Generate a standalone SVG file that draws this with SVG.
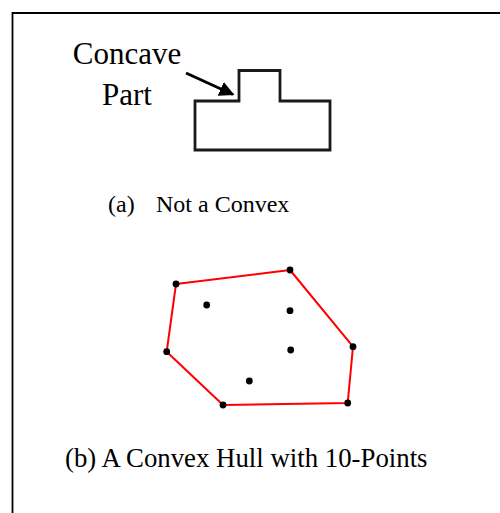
<svg xmlns="http://www.w3.org/2000/svg" width="500" height="513" viewBox="0 0 500 513">
  <defs>
    <style>
      .t { font-family: "Liberation Serif", "Times New Roman", serif; fill: #000; }
      .shape { fill: none; stroke: #1a1a1a; stroke-width: 2.8; stroke-linejoin: miter; }
      .hull { fill: none; stroke: #ff0000; stroke-width: 2; stroke-linejoin: round; }
      .pt { fill: #000; }
    </style>
    <marker id="ah" viewBox="0 0 10 10" refX="9" refY="5" markerWidth="5" markerHeight="5" orient="auto" markerUnits="strokeWidth">
      <path d="M0,0 L10,5 L0,10 Z" fill="#000"/>
    </marker>
  </defs>
  <rect x="0" y="0" width="500" height="513" fill="#fff"/>
  <path d="M12.5,513 V13 H500" fill="none" stroke="#000" stroke-width="1.8"/>

  <g id="concave-figure">
    <path class="shape" d="M195,150 V101 H239 V70.5 H280 V101 H330 V150 Z"/>
    <text class="t" x="127" y="64" font-size="31" text-anchor="middle">Concave</text>
    <text class="t" x="127" y="105" font-size="31" text-anchor="middle">Part</text>
  </g>
  <g id="connectors">
    <line x1="186" y1="73" x2="233" y2="94.5" stroke="#000" stroke-width="3" marker-end="url(#ah)"/>
  </g>
  <text class="t" x="108" y="212" font-size="24">(a)</text>
  <text class="t" x="156" y="212" font-size="24">Not a Convex</text>

  <g id="convex-hull">
    <polygon class="hull" points="176,284 290,270 353,346.7 347.7,403 223,405 166.7,351.7"/>
    <circle class="pt" cx="176" cy="284" r="3.4"/>
    <circle class="pt" cx="290" cy="270" r="3.4"/>
    <circle class="pt" cx="353" cy="346.7" r="3.4"/>
    <circle class="pt" cx="347.7" cy="403" r="3.4"/>
    <circle class="pt" cx="223" cy="405" r="3.4"/>
    <circle class="pt" cx="166.7" cy="351.7" r="3.4"/>
    <circle class="pt" cx="206.7" cy="305" r="3.4"/>
    <circle class="pt" cx="290" cy="310.7" r="3.4"/>
    <circle class="pt" cx="290.7" cy="350" r="3.4"/>
    <circle class="pt" cx="249.3" cy="381" r="3.4"/>
  </g>
  <text class="t" x="65" y="467" font-size="26.8">(b) A Convex Hull with 10-Points</text>
</svg>
